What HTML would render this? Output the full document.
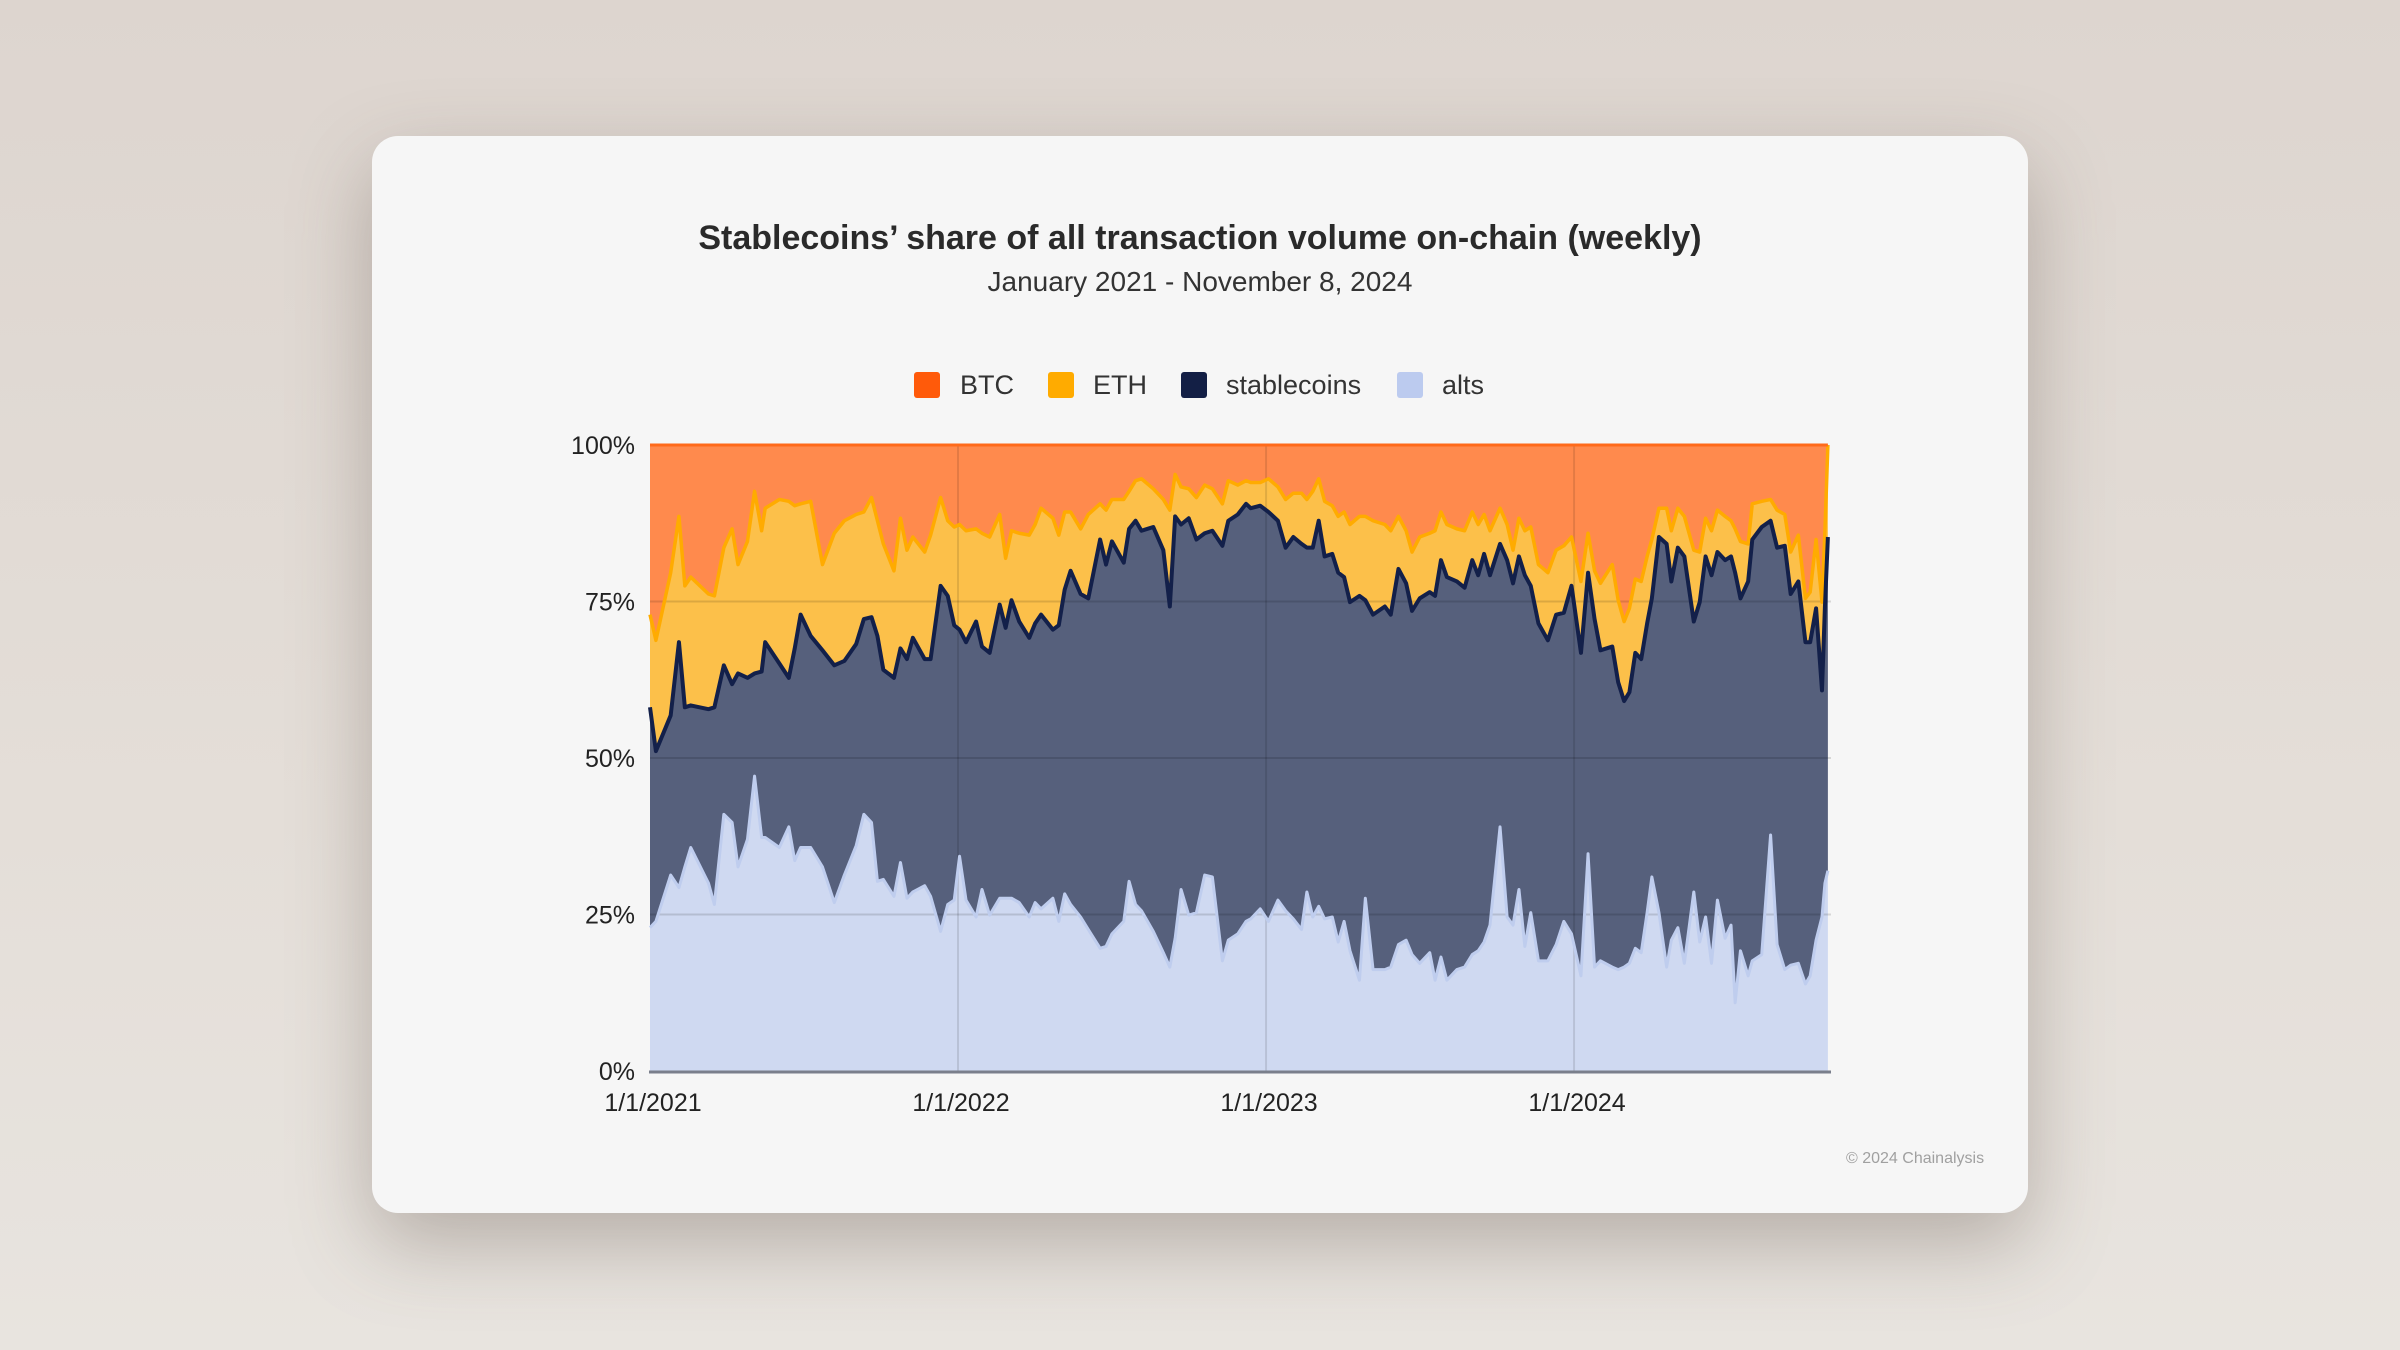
<!DOCTYPE html>
<html><head><meta charset="utf-8">
<style>
html,body{margin:0;padding:0;}
body{width:2400px;height:1350px;overflow:hidden;position:relative;background:linear-gradient(180deg,#ddd5cf 0%,#e4ded8 60%,#e8e4df 100%);font-family:"Liberation Sans",sans-serif;}
#card{position:absolute;left:372px;top:136px;width:1656px;height:1077px;background:#f6f6f6;border-radius:26px;box-shadow:0 30px 80px rgba(90,75,65,0.35);}
#title{position:absolute;left:0;width:2400px;top:219px;text-align:center;font-size:34px;font-weight:bold;color:#2a2a2a;}
#subtitle{position:absolute;left:0;width:2400px;top:266px;text-align:center;font-size:28px;color:#333;}
.leg{position:absolute;top:370px;height:30px;font-size:27px;color:#333;line-height:30px;}
.sw{position:absolute;top:372px;width:26px;height:26px;border-radius:3px;}
#copy{position:absolute;left:1846px;top:1150px;font-size:16px;color:#a0a0a0;}
svg{position:absolute;left:0;top:0;}
</style></head>
<body>
<div id="card"></div>
<div id="title">Stablecoins’ share of all transaction volume on-chain (weekly)</div>
<div id="subtitle">January 2021 - November 8, 2024</div>
<div class="sw" style="left:914px;background:#ff5a0a"></div>
<div class="leg" style="left:960px">BTC</div>
<div class="sw" style="left:1048px;background:#ffab00"></div>
<div class="leg" style="left:1093px">ETH</div>
<div class="sw" style="left:1181px;background:#131f45"></div>
<div class="leg" style="left:1226px">stablecoins</div>
<div class="sw" style="left:1397px;background:#bccbef"></div>
<div class="leg" style="left:1442px">alts</div>
<div id="copy">© 2024 Chainalysis</div>
<svg id="chart" width="2400" height="1350"></svg>
<script>
const weeks=[0,1,3.5,4.9,5.9,6.9,9.9,10.9,12.5,13.9,14.9,16.5,17.7,18.9,19.5,21.9,23.5,24.5,25.5,27.2,29.2,31.2,32.9,34.9,36.2,37.5,38.5,39.5,41.3,42.4,43.5,44.5,46.5,47.5,49.2,50.4,51.5,52.4,53.5,55.2,56.2,57.5,59.2,60.2,61.2,62.5,64.2,65.2,66.2,68.2,69.2,70.2,71.2,72.9,74.2,76.2,77.2,78.2,80.2,81.1,82.2,83.2,85.2,86.9,88,88.9,89.9,91.2,92.5,93.9,95.2,96.9,97.9,99.5,100.9,101.7,103.3,104.7,106.3,107.6,108.9,110.3,111.2,112.2,113.2,114.2,115.5,116.5,117.5,118.5,120.1,121.1,122.4,124.4,125.4,126.7,128,129,130.3,132,132.9,133.9,134.9,136.6,137.9,139.2,140.2,141.2,142.2,143.9,145.1,146.1,147.1,148.1,149.1,150.4,152,153.4,154.7,156,157.6,158.8,159.9,160.9,162.9,163.9,164.9,165.8,166.8,167.8,168.8,169.6,170.8,172.1,172.9,174,175.1,176.7,177.7,178.7,179.7,180.7,182,183,183.7,184.6,185.9,186.6,188.2,189.7,190.8,192.1,193.1,194.4,195.6,196.4,197.4,198.4,198.9,199.4];
const alts=[22.9,23.9,31.3,29.3,32.6,35.7,30.0,26.6,41.0,39.7,32.6,37.0,47.1,37.3,37.3,35.7,39.0,33.6,35.7,35.7,32.6,26.9,31.3,36.0,41.0,39.7,30.3,30.6,27.9,33.3,27.6,28.6,29.6,27.9,22.3,26.6,27.3,34.3,27.3,24.6,29.0,24.9,27.6,27.6,27.6,26.9,24.6,26.9,25.9,27.6,23.9,28.3,26.6,24.6,22.6,19.6,19.9,21.9,23.9,30.3,26.6,25.6,22.3,18.9,16.6,21.2,29.0,24.9,25.3,31.3,31.0,17.6,20.9,21.9,23.9,24.3,25.9,23.9,27.3,25.6,24.3,22.6,28.6,24.6,26.3,24.3,24.6,20.6,23.9,19.2,14.5,27.6,16.2,16.2,16.6,20.2,20.9,18.6,17.2,18.9,14.5,18.2,14.5,16.2,16.6,18.6,19.2,20.6,23.3,39.0,24.6,23.3,29.0,19.9,25.3,17.6,17.6,20.2,23.9,21.9,15.2,34.7,16.6,17.6,16.6,16.2,16.6,17.2,19.6,18.9,25.3,31.0,25.3,16.6,20.9,22.9,17.2,28.6,20.6,24.6,17.2,27.3,21.2,23.3,10.9,19.2,15.2,17.6,18.6,37.7,20.2,16.2,16.9,17.2,13.9,15.2,20.9,24.6,30.0,32.0];
const stablecoins=[35.2,27.2,25.5,39.2,25.5,22.7,27.8,31.5,23.8,22.1,30.9,25.8,16.4,26.5,31.2,29.4,23.8,33.9,37.2,33.8,34.6,37.9,34.2,32.2,31.2,32.8,39.2,33.5,34.9,34.2,38.2,40.6,36.2,37.9,55.2,49.3,43.9,36.2,41.2,47.2,38.8,41.9,46.9,43.2,47.6,44.9,44.6,44.6,47.0,42.9,47.3,48.6,53.3,51.6,52.9,65.3,61.0,62.7,57.3,56.3,61.3,60.7,64.6,64.3,57.6,67.4,58.3,63.4,59.6,54.6,55.3,66.3,67.0,67.0,66.7,65.6,64.4,65.4,60.6,58.0,61.0,61.6,55.0,59.0,61.6,57.9,58.0,59.0,55.0,55.7,61.4,47.6,56.7,58.0,56.3,60.0,57.0,54.9,58.3,57.6,61.4,63.4,64.4,62.0,60.6,63.0,60.0,62.0,55.9,45.2,57.0,54.6,53.2,59.3,52.2,53.9,51.2,52.7,49.3,55.6,51.6,44.9,55.6,49.6,51.2,45.9,42.5,43.3,47.2,46.9,46.2,44.5,60.0,67.6,57.3,60.7,65.0,43.2,54.3,57.6,62.0,55.6,60.4,58.9,68.7,56.3,63.0,67.3,68.3,50.2,63.4,67.7,59.3,61.0,54.6,53.3,53.0,36.2,44.2,53.3];
const eth=[14.8,17.7,22.8,20.1,19.4,20.5,18.4,17.8,18.8,24.8,17.4,21.8,29.1,22.5,21.4,26.2,28.2,22.8,17.7,21.5,13.7,21.1,22.4,20.7,17.1,19.1,18.4,20.1,17.1,20.8,17.4,16.1,17.1,19.8,14.1,12.0,15.7,16.8,17.8,14.8,18.1,18.5,14.4,11.1,11.1,14.1,16.4,15.8,17.0,17.8,14.4,12.4,9.4,10.4,13.4,5.7,8.7,6.7,10.1,6.0,6.4,8.3,6.1,8.1,15.4,6.7,6.0,4.7,6.7,7.7,6.7,6.7,6.4,4.7,3.7,4.1,3.7,5.3,5.4,7.7,7.0,8.1,7.7,9.0,6.7,8.8,7.7,9.0,10.4,12.4,12.7,13.4,15.0,13.1,13.4,8.4,8.4,9.4,9.8,9.4,10.4,7.7,8.4,8.4,9.1,7.7,8.1,6.3,7.1,5.7,5.7,5.3,6.1,7.1,9.4,9.4,10.8,10.3,10.7,7.8,11.4,6.3,7.7,10.7,13.1,13.1,12.7,13.4,11.8,12.4,10.7,9.4,4.6,5.7,8.1,6.3,6.4,11.4,8.0,6.1,7.1,6.7,7.0,5.7,7.0,9.1,6.0,5.7,4.1,3.4,6.0,5.0,6.7,7.4,7.0,8.0,11.0,14.1,12.1,14.7];
const btc=[27.1,31.2,20.4,11.4,22.5,21.1,23.8,24.1,16.4,13.4,19.1,15.4,7.4,13.7,10.1,8.7,9.0,9.7,9.4,9.0,19.1,14.1,12.1,11.1,10.7,8.4,12.1,15.8,20.1,11.7,16.8,14.7,17.1,14.4,8.4,12.1,13.1,12.7,13.7,13.4,14.1,14.7,11.1,18.1,13.7,14.1,14.4,12.7,10.1,11.7,14.4,10.7,10.7,13.4,11.1,9.4,10.4,8.7,8.7,7.4,5.7,5.4,7.0,8.7,10.4,4.7,6.7,7.0,8.4,6.4,7.0,9.4,5.7,6.4,5.7,6.0,6.0,5.4,6.7,8.7,7.7,7.7,8.7,7.4,5.4,9.0,9.7,11.4,10.7,12.7,11.4,11.4,12.1,12.7,13.7,11.4,13.7,17.1,14.7,14.1,13.7,10.7,12.7,13.4,13.7,10.7,12.7,11.1,13.7,10.1,12.7,16.8,11.7,13.7,13.1,19.1,20.4,16.8,16.1,14.7,21.8,14.1,20.1,22.1,19.1,24.8,28.2,26.1,21.4,21.8,17.8,15.1,10.1,10.1,13.7,10.1,11.4,16.8,17.1,11.7,13.7,10.4,11.4,12.1,13.4,15.4,15.8,9.4,9.0,8.7,10.4,11.1,17.1,14.4,24.5,23.5,15.1,25.1,13.7,0.0];
const yTicks=[0,25,50,75,100];
const yTickLabels=["0%","25%","50%","75%","100%"];
const xTickWeeks=[0,52.14,104.29,156.43];
const xTickLabels=["1/1/2021","1/1/2022","1/1/2023","1/1/2024"];

const NS="http://www.w3.org/2000/svg";
const svg=document.getElementById('chart');
const L=650,R=1831,T=445,B=1071;
const xScale=w=>L+w*(308/52.14);
const yScale=p=>B-p*(B-T)/100;
function mk(tag,attrs){const e=document.createElementNS(NS,tag);for(const k in attrs)e.setAttribute(k,attrs[k]);svg.appendChild(e);return e;}

const lvl0=weeks.map(()=>0);
const lvl1=alts.map(v=>v);
const lvl2=lvl1.map((v,i)=>v+stablecoins[i]);
const lvl3=lvl2.map((v,i)=>v+eth[i]);
const lvl4=lvl3.map((v,i)=>v+btc[i]);
function band(lo,hi){
  let d='M'+xScale(weeks[0])+','+yScale(hi[0]);
  for(let i=1;i<weeks.length;i++)d+=' L'+xScale(weeks[i])+','+yScale(hi[i]);
  for(let i=weeks.length-1;i>=0;i--)d+=' L'+xScale(weeks[i])+','+yScale(lo[i]);
  return d+'Z';
}
function line(hi){
  let d='M'+xScale(weeks[0])+','+yScale(hi[0]);
  for(let i=1;i<weeks.length;i++)d+=' L'+xScale(weeks[i])+','+yScale(hi[i]);
  return d;
}
const b1=mk('path',{d:band(lvl3,lvl4),fill:'#ff8a4d'});


const b2=mk('path',{d:band(lvl2,lvl3),fill:'#fcc04a'});


const b3=mk('path',{d:band(lvl1,lvl2),fill:'#56607c'});


const b4=mk('path',{d:band(lvl0,lvl1),fill:'#cfd9f1'});



yTicks.forEach((t,i)=>{
  if(t>0&&t<100){const g=mk('line',{x1:L,x2:R,y1:yScale(t),y2:yScale(t),stroke:'rgba(0,0,0,0.13)','stroke-width':2});
  
  }
  const tx=mk('text',{x:635,y:yScale(t)+9,'text-anchor':'end','font-size':25,fill:'#222','font-family':'Liberation Sans, sans-serif'});
  tx.textContent=yTickLabels[i];
  
  
});
xTickWeeks.forEach((w,i)=>{
  if(w>0){const g=mk('line',{x1:xScale(w),x2:xScale(w),y1:T,y2:B,stroke:'rgba(0,0,0,0.11)','stroke-width':2});
  
  }
  const tx=mk('text',{x:xScale(w)+3,y:1111,'text-anchor':'middle','font-size':25,fill:'#222','font-family':'Liberation Sans, sans-serif'});
  tx.textContent=xTickLabels[i];
  
  
});

const l4=mk('path',{d:line(lvl1),fill:'none',stroke:'#bfcdee','stroke-width':3,'stroke-linejoin':'round'});


const l3=mk('path',{d:line(lvl3),fill:'none',stroke:'#ffab00','stroke-width':3.5,'stroke-linejoin':'round'});


const l2=mk('path',{d:line(lvl2),fill:'none',stroke:'#13204a','stroke-width':4,'stroke-linejoin':'round'});


const l1=mk('path',{d:line(lvl4),fill:'none',stroke:'#ff6a1a','stroke-width':3});



const ax=mk('line',{x1:L-1,x2:R,y1:B+1,y2:B+1,stroke:'#7a7f8c','stroke-width':3});


</script>
</body></html>
